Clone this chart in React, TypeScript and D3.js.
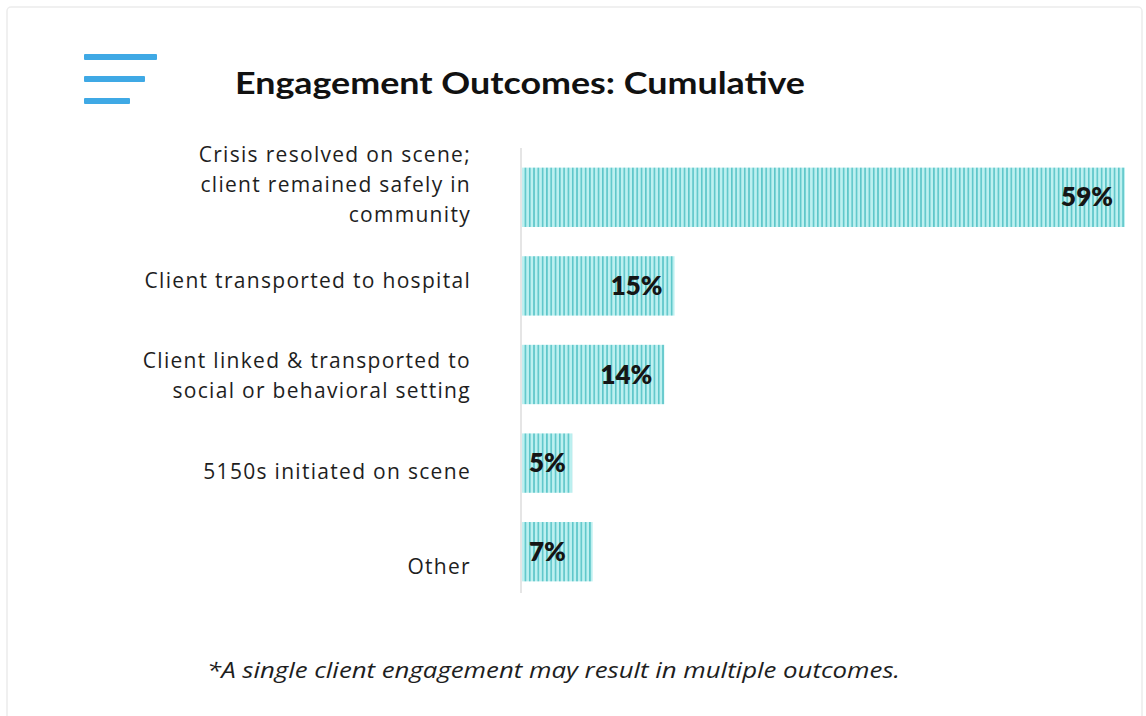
import React from "react";
import * as d3 from "d3";

const categories: string[][] = [
  ["Crisis resolved on scene;", "client remained safely in", "community"],
  ["Client transported to hospital"],
  ["Client linked & transported to", "social or behavioral setting"],
  ["5150s initiated on scene"],
  ["Other"],
];
const values = [59, 15, 14, 5, 7];
const valueLabels = ["59%", "15%", "14%", "5%", "7%"];
const title = "Engagement Outcomes: Cumulative";
const footnote = "*A single client engagement  may result in multiple outcomes.";

const W = 1146;
const H = 716;
const FONT = "Lato, 'Open Sans', sans-serif";
const LABEL_FONT = "'Open Sans', Lato, sans-serif";

export default function App() {
  const x = d3.scaleLinear().domain([0, 59]).range([521, 1125]);
  const idx = values.map((_, i) => i);
  const y = d3
    .scaleBand<number>()
    .domain(idx)
    .range([153, 596])
    .paddingInner(0.33)
    .paddingOuter(0.165);
  // category labels drift slightly lower than bars in the original layout
  const yLabel = d3.scalePoint<number>().domain(idx).range([185, 567]);

  return (
    <svg
      width={W}
      height={H}
      style={{ position: "fixed", left: 0, top: 0, background: "#fff" }}
      fontFamily={FONT}
    >
      <defs>
        <pattern id="stripes" width={4.3} height={10} patternUnits="userSpaceOnUse">
          <rect width={4.3} height={10} fill="#bdf0f0" />
          <rect x={0} width={1.6} height={10} fill="#5cc6c9" />
        </pattern>
      </defs>
      <rect x={7} y={7} width={1135} height={720} rx={4} fill="#fff" stroke="#ececec" strokeWidth={1.5} />

      {/* icon */}
      <rect x={84} y={54} width={73} height={6} rx={1} fill="#3fa9e5" />
      <rect x={84} y={76} width={61} height={6} rx={1} fill="#3fa9e5" />
      <rect x={84} y={98} width={46} height={6} rx={1} fill="#3fa9e5" />

      <text
        x={235}
        y={94}
        fontSize={30}
        fontWeight={700}
        fill="#111"
        textLength={570}
        lengthAdjust="spacingAndGlyphs"
      >
        {title}
      </text>

      {/* axis line */}
      <line x1={521} x2={521} y1={148} y2={593} stroke="#d4d4d4" strokeWidth={1.2} />

      {values.map((v, i) => {
        const y0 = y(i)!;
        const bw = y.bandwidth();
        const x0 = x(0);
        const x1 = x(v);
        const narrow = x1 - x0 < 90;
        const cy = yLabel(i)!;
        return (
          <g key={i}>
            <rect x={x0 + 1} y={y0} width={x1 - x0 - 1} height={bw} fill="url(#stripes)" />
            <text
              x={narrow ? x0 + 8 : x1 - 12}
              y={y0 + bw / 2 + 9}
              textAnchor={narrow ? "start" : "end"}
              fontSize={26}
              fontWeight={800}
              fill="#151515"
            >
              {valueLabels[i]}
            </text>
            <text
              x={470}
              textAnchor="end"
              fontSize={21}
              fontFamily={LABEL_FONT}
              letterSpacing={1.3}
              fill="#1e1e1e"
            >
              {categories[i].map((line, j) => (
                <tspan
                  key={j}
                  x={471}
                  y={cy + 7 + (j - (categories[i].length - 1) / 2) * 30}
                >
                  {line}
                </tspan>
              ))}
            </text>
          </g>
        );
      })}

      <text
        x={207}
        y={678}
        fontSize={21}
        fontStyle="italic"
        fontFamily={LABEL_FONT}
        fill="#1e1e1e"
        textLength={693}
        lengthAdjust="spacingAndGlyphs"
      >
        {footnote}
      </text>
    </svg>
  );
}
